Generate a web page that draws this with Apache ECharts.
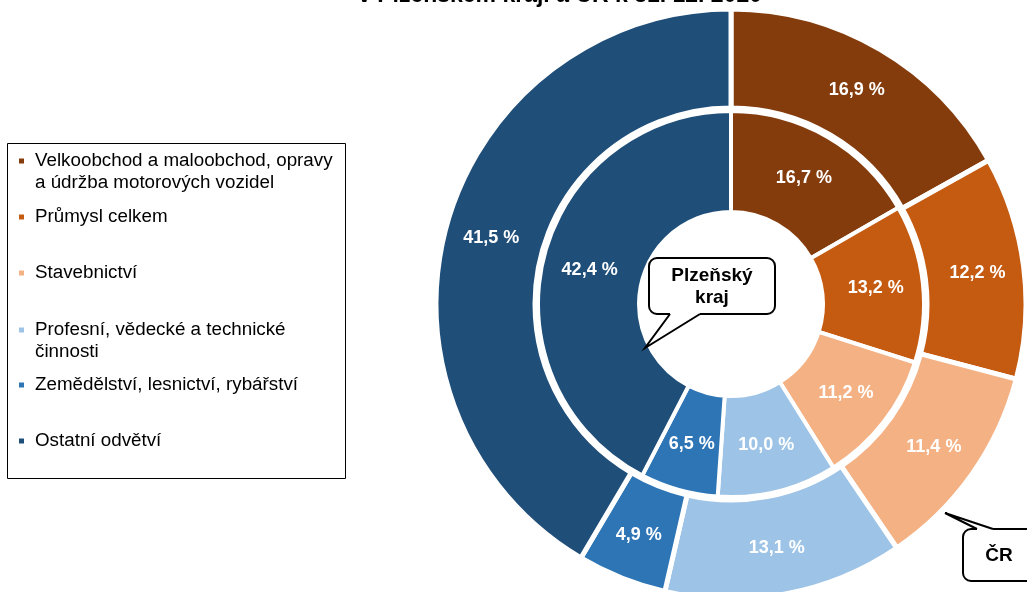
<!DOCTYPE html>
<html><head><meta charset="utf-8">
<script src="https://cdn.jsdelivr.net/npm/echarts@6/dist/echarts.min.js"></script>
<style>html,body{margin:0;padding:0;background:#fff}#c{width:1027px;height:592px}</style>
</head><body><div id="c"></div>
<script>
const categories = ['Velkoobchod a maloobchod, opravy a údržba motorových vozidel','Průmysl celkem','Stavebnictví','Profesní, vědecké a technické činnosti','Zemědělství, lesnictví, rybářství','Ostatní odvětví'];
const legendLines = [['Velkoobchod a maloobchod, opravy','a údržba motorových vozidel'],['Průmysl celkem'],['Stavebnictví'],['Profesní, vědecké a technické','činnosti'],['Zemědělství, lesnictví, rybářství'],['Ostatní odvětví']];
const plzenValues = [16.7, 13.2, 11.2, 10.0, 6.5, 42.4];
const crValues = [16.9, 12.2, 11.4, 13.1, 4.9, 41.5];
const colors = ['#843C0C','#C55A11','#F4B183','#9DC3E6','#2E75B6','#1F4E79'];
const titleText = 'v Plzeňském kraji a ČR k 31. 12. 2020';
const innerLabel = 'Plzeňský\nkraj';
const outerLabel = 'ČR';

const FONT = 'Liberation Sans, Arial, sans-serif';
const legendCenters = [161, 217, 273, 330, 385, 441];
const LH = 22;

const legends = categories.map((name, i) => {
  const lines = legendLines[i];
  const text = lines.length > 1 ? '\n' + lines.join('\n') : lines[0];
  const h = lines.length > 1 ? LH * 3 : LH;
  return {
    orient: 'vertical', left: 17, top: legendCenters[i] - h / 2, padding: 0,
    itemWidth: 7, itemHeight: 7, icon: 'rect', selectedMode: false,
    data: [name], formatter: () => text,
    textStyle: { fontFamily: FONT, fontSize: 18.8, lineHeight: LH, color: '#000', padding: [0, 0, 0, 5] }
  };
});

const fmt = p => p.value.toFixed(1).replace('.', ',') + ' %';
function makeData(vals) {
  return vals.map((v, i) => ({ name: categories[i], value: v, itemStyle: { color: colors[i] } }));
}
const labelStyle = { show: true, position: 'inside', formatter: fmt, color: '#fff', fontWeight: 'bold', fontSize: 18, fontFamily: FONT };

const chart = echarts.init(document.getElementById('c'), null, { renderer: 'canvas' });
chart.setOption({
  animation: false,
  legend: legends,
  series: [
    { type: 'pie', name: 'Plzeňský kraj', center: [731, 304], radius: [92, 193], startAngle: 90, clockwise: true,
      avoidLabelOverlap: false, itemStyle: { borderColor: '#fff', borderWidth: 4 }, label: labelStyle,
      labelLine: { show: false }, emphasis: { disabled: true }, data: makeData(plzenValues) },
    { type: 'pie', name: 'ČR', center: [731, 304], radius: [196, 295], startAngle: 90, clockwise: true,
      avoidLabelOverlap: false, itemStyle: { borderColor: '#fff', borderWidth: 5 }, label: labelStyle,
      labelLine: { show: false }, emphasis: { disabled: true }, data: makeData(crValues) }
  ],
  graphic: [
    { type: 'rect', z: 100, shape: { x: 7.5, y: 143.5, width: 338, height: 335 }, style: { fill: 'none', stroke: '#000', lineWidth: 1 } },
    { type: 'text', z: 100, style: { text: titleText, x: 560, y: -4, align: 'center', verticalAlign: 'middle', font: 'bold 23px ' + FONT, fill: '#000' } },
    // Plzeň bubble
    { type: 'rect', z: 100, shape: { x: 649, y: 258, width: 126, height: 56, r: 8 }, style: { fill: '#fff', stroke: '#000', lineWidth: 2 } },
    { type: 'polygon', z: 101, shape: { points: [[670, 311], [700, 311], [700, 316], [645, 348], [670, 316]] }, style: { fill: '#fff' } },
    { type: 'polyline', z: 102, shape: { points: [[670, 314], [645, 348], [700, 314]] }, style: { stroke: '#000', lineWidth: 2, fill: null } },
    { type: 'text', z: 103, style: { text: innerLabel, x: 712, y: 287, align: 'center', verticalAlign: 'middle', font: 'bold 19px ' + FONT, lineHeight: 22, fill: '#000' } },
    // ČR bubble
    { type: 'rect', z: 100, shape: { x: 963, y: 529, width: 100, height: 52, r: 8 }, style: { fill: '#fff', stroke: '#000', lineWidth: 2 } },
    { type: 'polygon', z: 101, shape: { points: [[977, 532], [977, 527], [945, 513], [993, 527], [993, 532]] }, style: { fill: '#fff' } },
    { type: 'polyline', z: 102, shape: { points: [[977, 529], [945, 513], [993, 529]] }, style: { stroke: '#000', lineWidth: 2, fill: null } },
    { type: 'text', z: 103, style: { text: outerLabel, x: 999, y: 556, align: 'center', verticalAlign: 'middle', font: 'bold 19px ' + FONT, fill: '#000' } }
  ]
});
</script>
</body></html>
